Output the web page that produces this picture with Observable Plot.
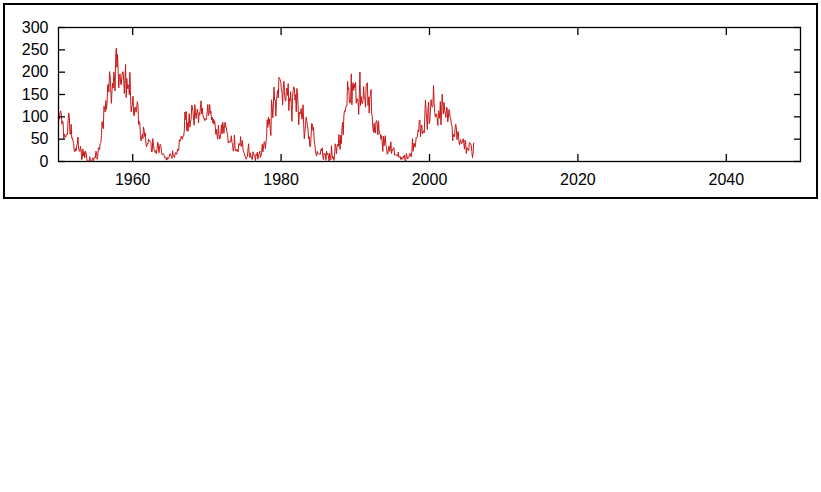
<!DOCTYPE html>
<html>
<head>
<meta charset="utf-8">
<script src="https://cdn.jsdelivr.net/npm/d3@7"></script>
<script src="https://cdn.jsdelivr.net/npm/@observablehq/plot@0.6"></script>
<style>
  html, body { margin: 0; padding: 0; background: #fff; }
  #wrap { position: relative; width: 821px; height: 492px; }
  #border { position: absolute; left: 3px; top: 3px; width: 811px; height: 192px; border: 2px solid #000; pointer-events: none; }
  #chart { position: absolute; left: 0; top: 0; }
</style>
</head>
<body>
<div id="wrap"><div id="chart"></div><div id="border"></div></div>
<script>
// Monthly sunspot numbers, one array per decade (January first)
const startYear = 1950;
const ssn1950s = [
  101.6, 94.8, 109.7, 113.4, 106.2, 83.6, 91.0, 85.2, 51.3, 61.4, 54.8, 54.1,
  59.9, 59.9, 59.9, 92.9, 108.5, 100.6, 61.5, 61.0, 83.1, 51.6, 52.4, 45.8,
  40.7, 22.7, 22.0, 29.1, 23.4, 36.4, 39.3, 54.9, 28.2, 23.8, 22.1, 34.3,
  26.5, 3.9, 10.0, 27.8, 12.5, 21.8, 8.6, 23.5, 19.3, 8.2, 1.6, 2.5,
  0.2, 0.5, 10.9, 1.8, 0.8, 0.2, 4.8, 8.4, 1.5, 7.0, 9.2, 7.6,
  23.1, 20.8, 4.9, 11.3, 28.9, 31.7, 26.7, 40.7, 42.7, 58.5, 89.2, 76.9,
  73.6, 124.0, 118.4, 110.7, 136.6, 116.6, 129.1, 169.6, 173.2, 155.3, 201.3, 192.1,
  165.0, 130.2, 157.4, 175.2, 164.6, 200.7, 187.2, 158.0, 235.8, 253.8, 210.9, 239.4,
  202.5, 164.9, 190.7, 196.0, 175.3, 171.5, 191.4, 200.2, 201.2, 181.5, 152.3, 187.6,
  217.4, 143.1, 185.7, 163.3, 172.0, 168.7, 149.6, 199.6, 145.2, 111.4, 124.0, 125.0
];
const ssn1960s = [
  146.3, 106.0, 102.2, 122.0, 119.6, 110.2, 121.7, 134.1, 127.2, 82.8, 89.6, 85.6,
  57.9, 46.1, 53.0, 61.4, 51.0, 77.4, 70.2, 55.8, 63.6, 37.7, 32.6, 39.9,
  38.7, 50.3, 45.6, 46.4, 43.7, 42.0, 21.8, 21.8, 51.3, 39.5, 26.9, 23.2,
  19.8, 24.4, 17.1, 29.3, 43.0, 35.9, 19.6, 33.2, 38.8, 35.3, 23.4, 14.9,
  15.3, 17.7, 16.5, 8.6, 9.5, 9.1, 3.1, 9.3, 4.7, 6.1, 7.4, 15.1,
  17.5, 14.2, 11.7, 6.8, 24.1, 15.9, 11.9, 8.9, 16.8, 20.1, 15.8, 17.0,
  28.2, 24.4, 25.3, 48.7, 45.3, 47.7, 56.7, 51.2, 50.2, 57.2, 57.2, 70.4,
  110.9, 93.6, 111.8, 69.5, 86.5, 67.3, 91.5, 107.2, 76.8, 88.2, 94.3, 126.4,
  121.8, 111.9, 92.2, 81.2, 127.2, 110.3, 96.1, 109.3, 117.2, 107.7, 86.0, 109.8,
  104.4, 120.5, 135.8, 106.8, 120.0, 106.0, 96.8, 98.0, 91.3, 95.7, 93.5, 97.9
];
const ssn1970s = [
  111.5, 127.8, 102.9, 109.5, 127.5, 106.8, 112.5, 93.0, 99.5, 86.6, 95.2, 83.5,
  91.3, 79.0, 60.7, 71.8, 57.5, 49.8, 81.0, 61.4, 50.2, 51.7, 63.2, 82.2,
  61.5, 88.4, 80.1, 63.2, 80.5, 88.0, 76.5, 76.8, 64.0, 61.3, 41.6, 45.3,
  43.4, 42.9, 46.0, 57.7, 42.4, 39.5, 23.1, 25.6, 59.3, 30.7, 23.9, 23.3,
  27.6, 26.0, 21.3, 40.3, 39.5, 36.0, 55.8, 33.6, 40.2, 47.1, 25.0, 20.5,
  18.9, 11.5, 11.5, 5.1, 9.0, 11.4, 28.2, 39.7, 13.9, 9.1, 19.4, 7.8,
  8.1, 4.3, 21.9, 18.8, 12.4, 12.2, 1.9, 16.4, 13.5, 20.6, 5.2, 15.3,
  16.4, 23.1, 8.7, 12.9, 18.6, 38.5, 21.4, 30.1, 44.0, 43.8, 29.1, 43.2,
  51.9, 93.6, 76.5, 99.7, 82.7, 95.1, 70.4, 58.1, 138.2, 125.1, 97.9, 122.7,
  166.6, 137.5, 138.0, 101.5, 134.4, 149.5, 159.4, 142.2, 188.4, 186.2, 183.3, 176.3
];
const ssn1980s = [
  159.6, 155.0, 126.2, 164.1, 179.9, 157.3, 136.3, 135.4, 155.0, 164.7, 147.9, 174.4,
  114.0, 141.3, 135.5, 156.4, 127.5, 90.0, 143.8, 158.7, 167.3, 162.4, 137.5, 150.1,
  111.2, 163.6, 153.8, 122.0, 82.2, 110.4, 106.1, 107.6, 118.8, 94.7, 98.1, 127.0,
  84.3, 51.0, 66.5, 80.7, 99.2, 91.1, 82.2, 71.8, 50.3, 55.8, 33.3, 33.4,
  57.0, 85.4, 83.5, 69.7, 76.4, 46.1, 37.4, 25.5, 15.7, 12.0, 22.8, 18.7,
  16.5, 15.9, 17.2, 16.2, 27.5, 24.2, 30.7, 11.1, 3.9, 18.6, 16.2, 17.3,
  2.5, 23.2, 15.1, 18.5, 13.7, 1.1, 18.1, 7.4, 3.8, 35.4, 15.2, 6.8,
  10.4, 2.4, 14.7, 39.6, 33.0, 17.4, 33.0, 38.7, 33.9, 60.6, 39.9, 27.1,
  59.0, 40.0, 76.2, 88.0, 60.1, 101.8, 113.8, 111.6, 120.1, 125.1, 125.1, 179.2,
  161.3, 165.1, 131.4, 130.5, 138.5, 196.2, 126.9, 168.9, 176.7, 159.4, 173.0, 165.5
];
const ssn1990s = [
  177.3, 130.5, 140.3, 140.3, 132.2, 105.4, 149.4, 200.3, 125.2, 145.5, 131.4, 129.7,
  136.9, 167.5, 141.9, 140.0, 121.3, 169.7, 173.7, 176.3, 125.3, 144.1, 108.2, 144.4,
  150.0, 161.1, 106.7, 99.8, 73.8, 65.2, 85.7, 64.5, 63.9, 88.7, 91.8, 82.6,
  59.3, 91.0, 69.8, 62.2, 61.3, 49.8, 57.9, 42.2, 22.4, 56.4, 35.6, 48.9,
  57.8, 35.5, 31.7, 16.1, 17.8, 28.0, 35.1, 22.5, 25.7, 44.0, 18.0, 26.2,
  24.2, 29.9, 31.1, 14.0, 14.5, 15.6, 14.5, 14.3, 11.8, 21.1, 9.0, 10.0,
  11.5, 4.4, 9.2, 4.8, 5.5, 11.8, 8.2, 14.4, 1.6, 0.9, 17.9, 13.3,
  5.7, 7.6, 8.7, 15.5, 18.5, 12.7, 10.4, 24.4, 51.3, 22.8, 39.0, 41.2,
  31.9, 40.3, 54.8, 53.4, 56.3, 70.7, 66.6, 92.2, 92.9, 55.5, 74.0, 81.9,
  62.0, 66.3, 68.8, 63.7, 106.4, 137.7, 113.5, 93.7, 71.5, 116.7, 133.2, 84.6
];
const ssn2000s = [
  90.1, 112.9, 138.5, 125.5, 121.6, 124.9, 170.1, 130.5, 109.7, 99.4, 106.8, 104.4,
  95.6, 80.6, 113.5, 107.7, 96.6, 134.0, 81.8, 106.4, 150.7, 125.5, 106.5, 132.2,
  114.1, 107.4, 98.4, 120.7, 120.8, 88.3, 99.6, 116.4, 109.6, 97.5, 95.0, 81.6,
  79.5, 46.2, 61.5, 60.0, 55.2, 77.4, 83.3, 72.7, 48.7, 65.5, 67.3, 46.5,
  37.3, 45.8, 49.1, 39.3, 41.5, 43.2, 51.1, 40.9, 27.7, 48.0, 43.5, 17.9,
  31.3, 29.2, 24.5, 24.4, 42.6, 39.6, 39.9, 36.4, 22.1, 8.5, 18.0, 41.2
];
const xDomain = [1950, 2050];
const yDomain = [0, 300];
const xTicks = [1960, 1980, 2000, 2020, 2040];
const yTicks = [0, 50, 100, 150, 200, 250, 300];

const values = [].concat(ssn1950s, ssn1960s, ssn1970s, ssn1980s, ssn1990s, ssn2000s);
const data = values.map((v, i) => ({t: startYear + (i + 0.5) / 12, v}));

const chart = Plot.plot({
  width: 821,
  height: 200,
  marginLeft: 58,
  marginRight: 21,
  marginTop: 27,
  marginBottom: 39,
  style: {fontFamily: "'Liberation Sans', Arial, Helvetica, sans-serif", fontSize: "16px", color: "#000", background: "transparent"},
  x: {domain: xDomain, label: null},
  y: {domain: yDomain, label: null},
  marks: [
    Plot.line(data, {x: "t", y: "v", stroke: "#c81818", strokeWidth: 1}),
    Plot.frame({stroke: "#000", strokeWidth: 1.3}),
    Plot.axisX(xTicks, {anchor: "bottom", label: null, tickSize: -7, tickPadding: 19, tickFormat: d3.format("d"), fill: "#000", stroke: "#000", strokeWidth: 1.3}),
    Plot.axisX(xTicks, {anchor: "top", label: null, tickSize: -7, tickFormat: () => "", stroke: "#000", strokeWidth: 1.3}),
    Plot.axisY(yTicks, {anchor: "left", label: null, tickSize: -7, tickPadding: 17, fill: "#000", stroke: "#000", strokeWidth: 1.3}),
    Plot.axisY(yTicks, {anchor: "right", label: null, tickSize: -7, tickFormat: () => "", stroke: "#000", strokeWidth: 1.3})
  ]
});
document.getElementById("chart").appendChild(chart);
</script>
</body>
</html>
